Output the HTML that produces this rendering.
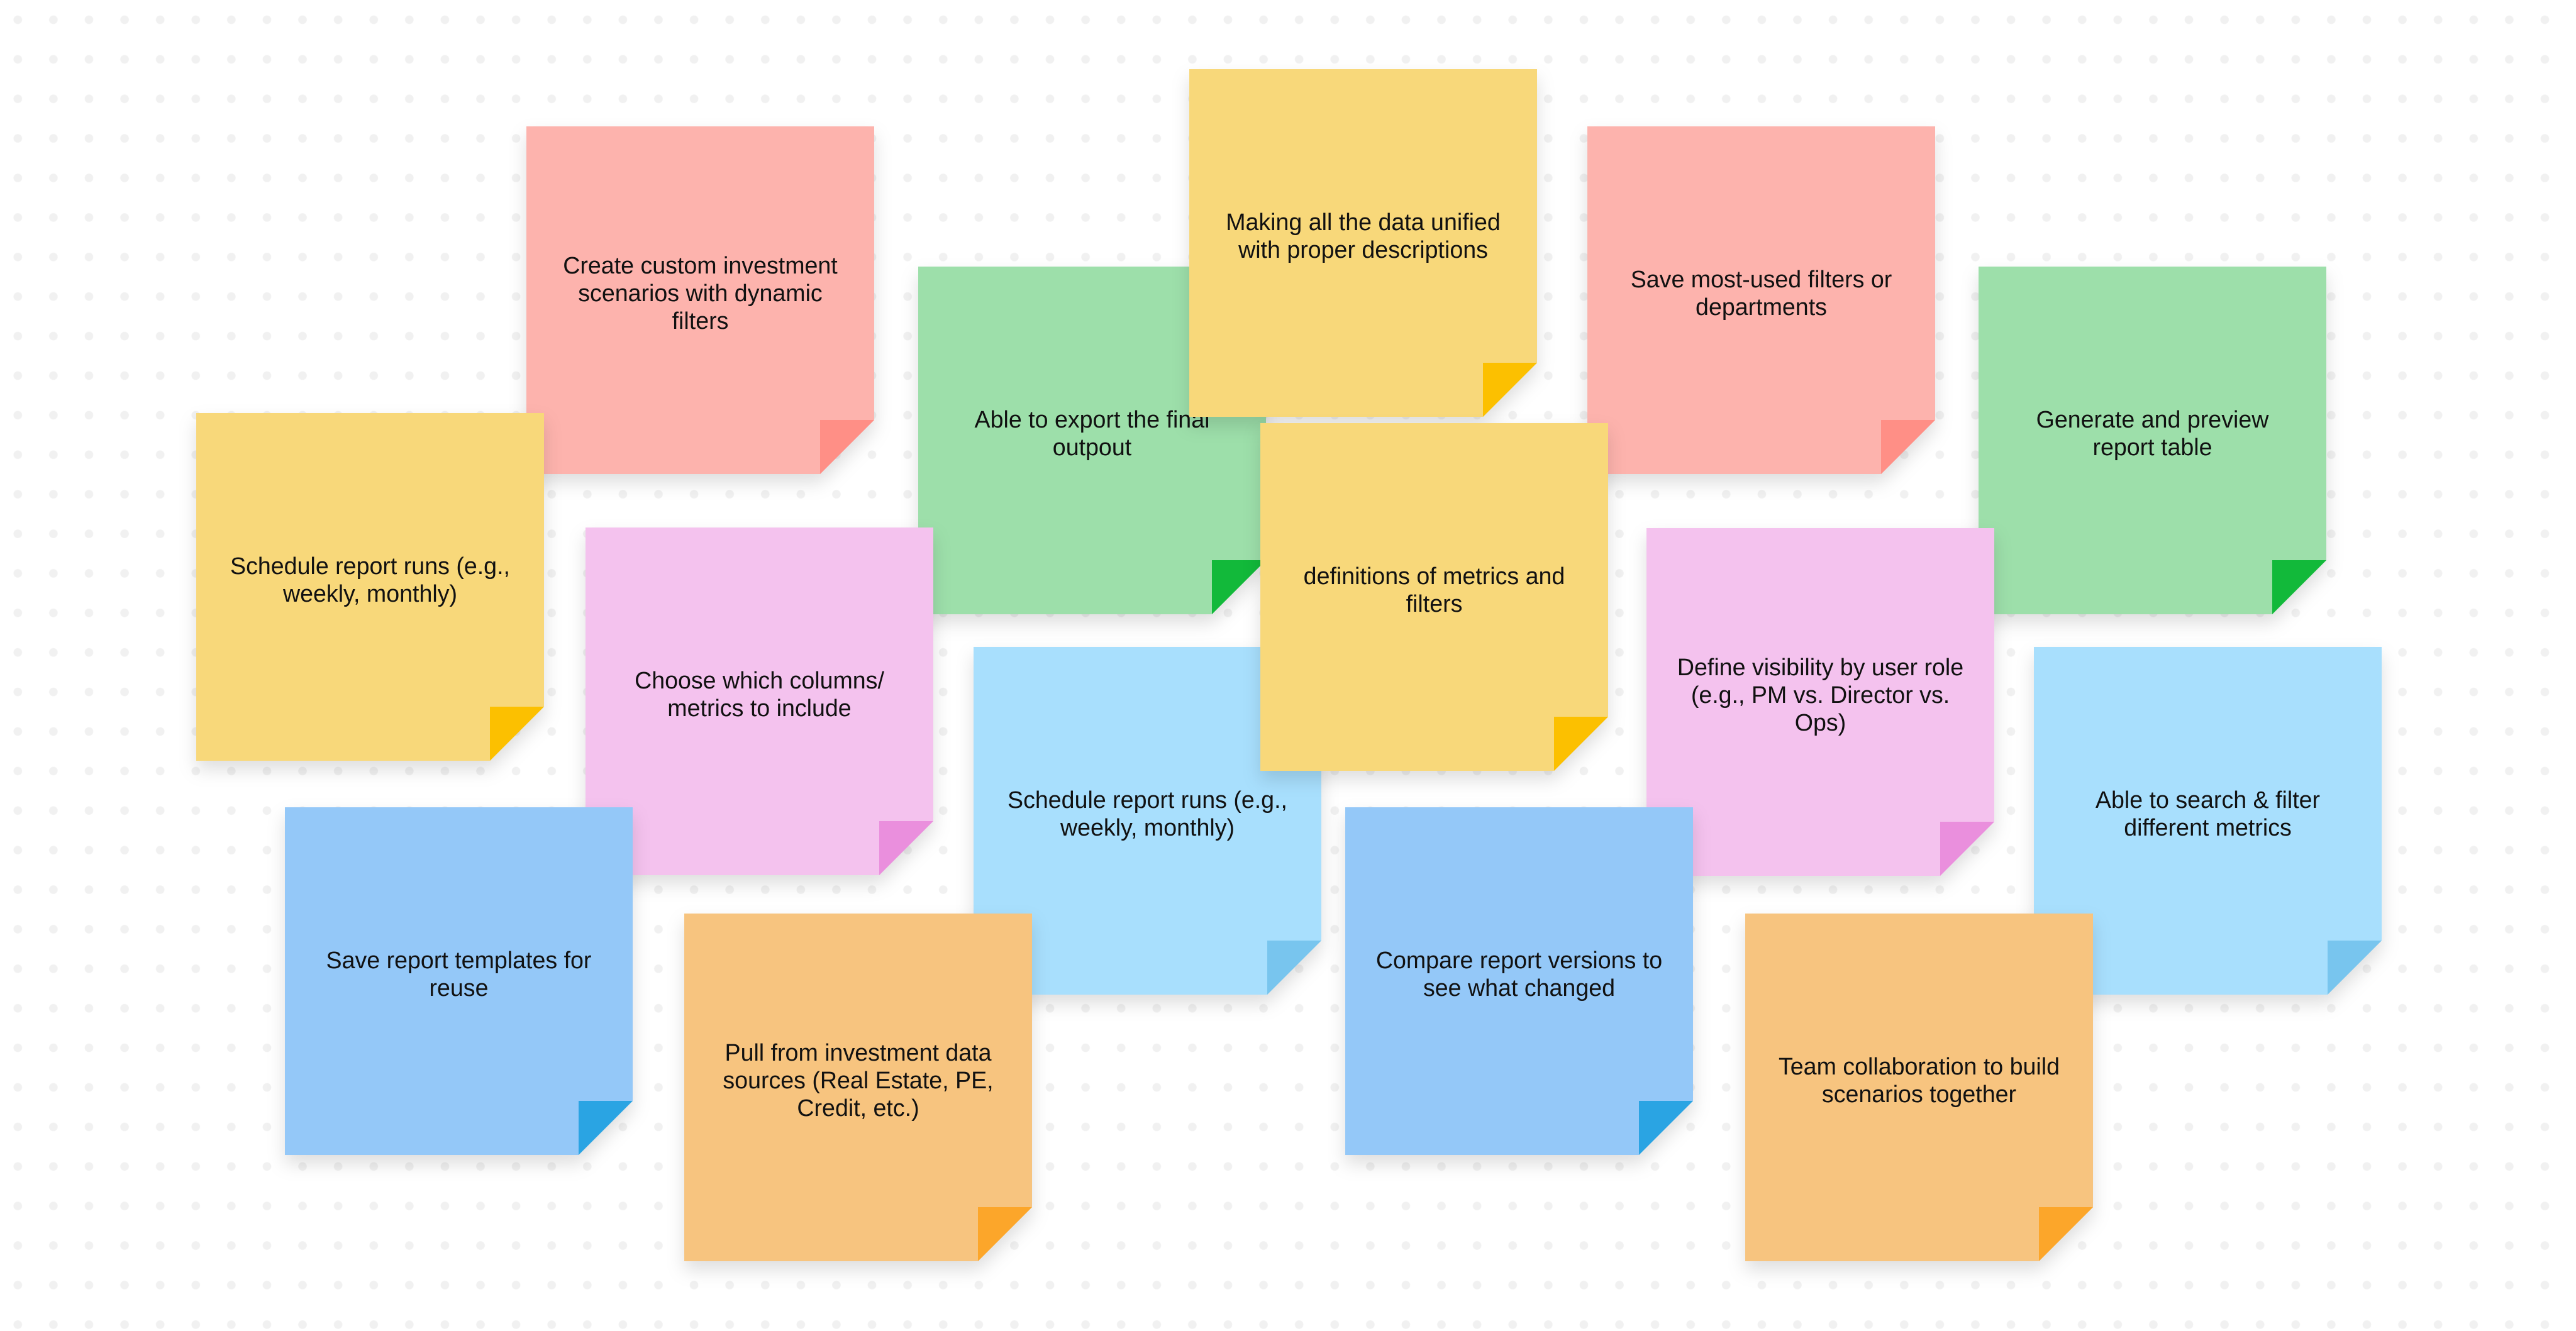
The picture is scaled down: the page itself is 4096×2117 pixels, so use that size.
<!DOCTYPE html>
<html><head><meta charset="utf-8"><style>
html,body{margin:0;padding:0;}
body{width:4096px;height:2117px;position:relative;overflow:hidden;background-color:#fff;
background-image:radial-gradient(circle,#f1f1f1 6.3px,rgba(255,255,255,0) 7.3px);
background-size:56.6px 62.9px;background-position:0 0;}
.n{position:absolute;width:553px;height:553px;filter:drop-shadow(0 14px 14px rgba(0,0,0,0.13));}
.b{position:absolute;left:0;top:0;width:553px;height:553px;clip-path:polygon(0 0,553px 0,553px 467px,467px 553px,0 553px);}
.f{position:absolute;left:467px;top:467px;width:86px;height:86px;clip-path:polygon(0 0,86px 0,0 86px);}
.t{position:absolute;left:42px;width:469px;top:265px;transform:translateY(-50%);text-align:center;
font-family:"Liberation Sans",Arial,sans-serif;font-size:37.6px;line-height:44px;color:#111;}
.pk .b{background:#fdb3ad}.pk .f{background:#ff8f86}
.yl .b{background:#f8d87a}.yl .f{background:#fcc000}
.gr .b{background:#9ddfaa}.gr .f{background:#12b93a}
.mg .b{background:#f4c2ee}.mg .f{background:#ea8fdd}
.lb .b{background:#a8dffd}.lb .f{background:#78c5ee}
.bl .b{background:#94c8f8}.bl .f{background:#2aa4e3}
.or .b{background:#f7c47f}.or .f{background:#fca62a}
</style></head><body>
<div class="n pk" style="left:837px;top:201px"><div class="b"></div><div class="f"></div><div class="t">Create custom investment scenarios with dynamic filters</div></div>
<div class="n pk" style="left:2524px;top:201px"><div class="b"></div><div class="f"></div><div class="t">Save most-used filters or departments</div></div>
<div class="n gr" style="left:1460px;top:424px"><div class="b"></div><div class="f"></div><div class="t">Able to export the final outpout</div></div>
<div class="n yl" style="left:1891px;top:110px"><div class="b"></div><div class="f"></div><div class="t">Making all the data unified with proper descriptions</div></div>
<div class="n gr" style="left:3146px;top:424px"><div class="b"></div><div class="f"></div><div class="t">Generate and preview report table</div></div>
<div class="n yl" style="left:312px;top:657px"><div class="b"></div><div class="f"></div><div class="t">Schedule report runs (e.g., weekly, monthly)</div></div>
<div class="n mg" style="left:931px;top:839px"><div class="b"></div><div class="f"></div><div class="t">Choose which columns/ metrics to include</div></div>
<div class="n mg" style="left:2618px;top:840px"><div class="b"></div><div class="f"></div><div class="t">Define visibility by user role (e.g., PM vs. Director vs. Ops)</div></div>
<div class="n lb" style="left:1548px;top:1029px"><div class="b"></div><div class="f"></div><div class="t">Schedule report runs (e.g., weekly, monthly)</div></div>
<div class="n yl" style="left:2004px;top:673px"><div class="b"></div><div class="f"></div><div class="t">definitions of metrics and filters</div></div>
<div class="n lb" style="left:3234px;top:1029px"><div class="b"></div><div class="f"></div><div class="t">Able to search &amp; filter different metrics</div></div>
<div class="n bl" style="left:453px;top:1284px"><div class="b"></div><div class="f"></div><div class="t">Save report templates for reuse</div></div>
<div class="n bl" style="left:2139px;top:1284px"><div class="b"></div><div class="f"></div><div class="t">Compare report versions to see what changed</div></div>
<div class="n or" style="left:1088px;top:1453px"><div class="b"></div><div class="f"></div><div class="t">Pull from investment data sources (Real Estate, PE, Credit, etc.)</div></div>
<div class="n or" style="left:2775px;top:1453px"><div class="b"></div><div class="f"></div><div class="t">Team collaboration to build scenarios together</div></div>
</body></html>
